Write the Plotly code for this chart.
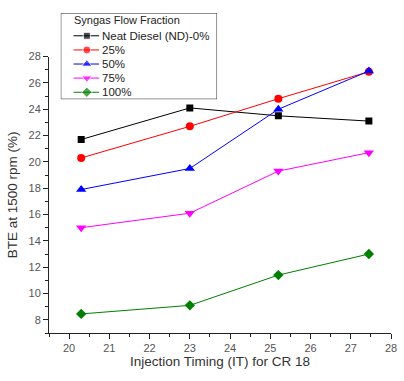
import plotly.graph_objects as go

# Injection timing (deg bTDC) at compression ratio 18
injection_timing = [20.3, 23.0, 25.2, 27.45]

# Brake thermal efficiency (%) at 1500 rpm for each syngas flow fraction
series_names = ["Neat Diesel (ND)-0%", "25%", "50%", "75%", "100%"]
bte_nd = [21.7, 24.1, 23.5, 23.1]
bte_25 = [20.3, 22.7, 24.8, 26.85]
bte_50 = [17.9, 19.5, 24.0, 26.9]
bte_75 = [15.0, 16.1, 19.3, 20.7]
bte_100 = [8.45, 9.1, 11.4, 13.0]

series_values = [bte_nd, bte_25, bte_50, bte_75, bte_100]
colors = ["#000000", "#ff0000", "#0000ff", "#ff00ff", "#008000"]
symbols = ["square", "circle", "triangle-up", "triangle-down", "diamond"]
marker_sizes = [7, 8, 9, 9, 8]

legend_title = "Syngas Flow Fraction"
x_title = "Injection Timing (IT) for CR 18"
y_title = "BTE at 1500 rpm (%)"

FONT = "Liberation Sans, Arial, sans-serif"

fig = go.Figure()

for name, vals, col, sym, ms in zip(series_names, series_values, colors, symbols, marker_sizes):
    fig.add_trace(go.Scatter(
        x=injection_timing, y=vals, name=name, mode="lines+markers",
        line=dict(color=col, width=1),
        marker=dict(symbol=sym, size=ms, color=col),
        showlegend=False, xaxis="x", yaxis="y",
    ))

# Boxed key drawn on its own small overlay subplot (pixel-like coordinates)
row_y = [33, 47.3, 61.5, 75.7, 90]
for name, col, sym, ms, yy in zip(series_names, colors, symbols, marker_sizes, row_y):
    fig.add_trace(go.Scatter(
        x=[74, 87.5, 100], y=[yy, yy, yy], mode="lines+markers",
        line=dict(color=col, width=1),
        marker=dict(symbol=sym, size=[0, ms, 0], color=col),
        showlegend=False, hoverinfo="skip", xaxis="x2", yaxis="y2",
    ))
    fig.add_annotation(
        x=101, y=yy, xref="x2", yref="y2", text=name, showarrow=False,
        xanchor="left", yanchor="middle",
        font=dict(family=FONT, size=11.5, color="#222222"),
    )

fig.add_annotation(
    x=72, y=17, xref="x2", yref="y2", text=legend_title, showarrow=False,
    xanchor="left", yanchor="middle",
    font=dict(family=FONT, size=11, color="#222222"),
)
fig.add_shape(
    type="rect", xref="x2", yref="y2", x0=61, x1=220, y0=97, y1=10,
    line=dict(color="#222222", width=1), fillcolor="white", layer="below",
)

axis_font = dict(family=FONT, size=11, color="#555555")
title_font = dict(family=FONT, size=13.5, color="#333333")

fig.update_layout(
    width=404, height=381,
    margin=dict(l=49, r=7, t=10, b=48),
    paper_bgcolor="white", plot_bgcolor="white",
    font=dict(family=FONT),
    xaxis=dict(
        domain=[0, 1], range=[19.5, 28], tick0=20, dtick=1,
        ticks="outside", ticklen=5, tickcolor="#222222", tickwidth=1,
        minor=dict(dtick=0.5, ticks="outside", ticklen=3, tickcolor="#222222"),
        showline=True, linecolor="#222222", linewidth=1,
        showgrid=False, zeroline=False, tickfont=axis_font,
        title=dict(text=x_title, font=title_font, standoff=1),
        anchor="y",
    ),
    yaxis=dict(
        domain=[0, 279 / 323], range=[7, 28], tick0=8, dtick=2,
        ticks="outside", ticklen=5, tickcolor="#222222", tickwidth=1,
        minor=dict(dtick=1, ticks="outside", ticklen=3, tickcolor="#222222"),
        showline=True, linecolor="#222222", linewidth=1,
        showgrid=False, zeroline=False, tickfont=axis_font,
        title=dict(text=y_title, font=title_font, standoff=7),
        anchor="x",
    ),
    xaxis2=dict(domain=[12 / 348, 171 / 348], range=[61, 220], visible=False,
                anchor="y2", fixedrange=True),
    yaxis2=dict(domain=[236 / 323, 1], range=[97, 10], visible=False,
                anchor="x2", fixedrange=True),
)

fig.write_html("out.html")
